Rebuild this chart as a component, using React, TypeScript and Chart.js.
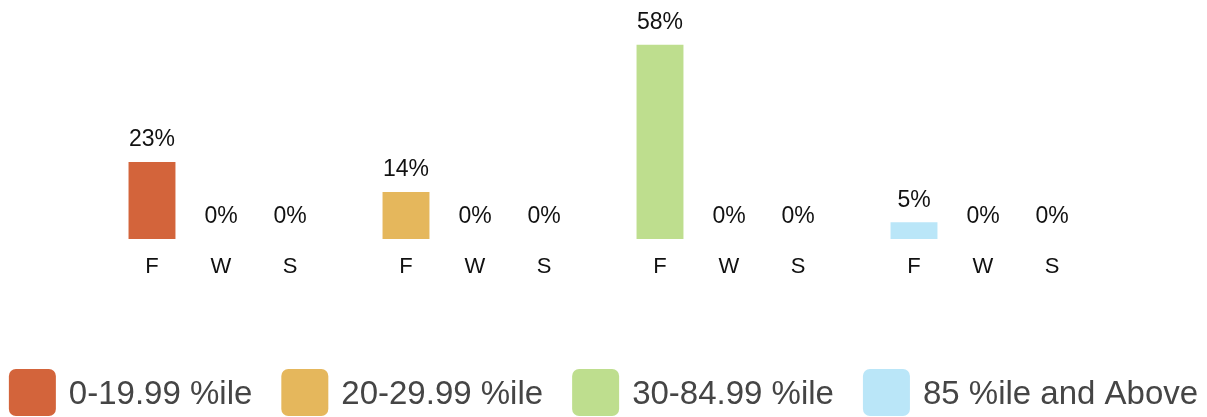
import React, { useEffect, useRef } from "react";
import { Chart, registerables } from "chart.js";

Chart.register(...registerables);

const groups = ["0-19.99 %ile", "20-29.99 %ile", "30-84.99 %ile", "85 %ile and Above"];
const seriesNames = ["F", "W", "S"];
const fValues = [23, 14, 58, 5];
const wValues = [0, 0, 0, 0];
const sValues = [0, 0, 0, 0];
const groupColors = ["#D3643B", "#E5B75C", "#BEDE8E", "#BAE6F8"];

const FONT = '"Liberation Sans", Arial, Helvetica, sans-serif';

const labelPlugin = {
  id: "barLabels",
  afterDatasetsDraw(chart: any) {
    const ctx = chart.ctx;
    ctx.save();
    ctx.textAlign = "center";
    ctx.textBaseline = "middle";
    ctx.fillStyle = "#111111";
    chart.data.datasets.forEach((ds: any, di: number) => {
      const meta = chart.getDatasetMeta(di);
      meta.data.forEach((bar: any, i: number) => {
        const v = ds.data[i];
        ctx.font = `23px ${FONT}`;
        ctx.fillText(`${v}%`, bar.x, bar.y - 22);
        ctx.font = `22px ${FONT}`;
        ctx.fillText(seriesNames[di], bar.x, chart.chartArea.bottom + 28);
      });
    });
    ctx.restore();
  },
  afterDraw(chart: any) {
    const ctx = chart.ctx;
    ctx.save();
    const box = 47;
    const textGap = 13;
    const itemGap = 29;
    ctx.font = `33px ${FONT}`;
    const widths = groups.map((g) => box + textGap + ctx.measureText(g).width);
    const total = widths.reduce((a, b) => a + b, 0) + itemGap * (groups.length - 1);
    let x = (chart.width - total) / 2;
    const top = chart.height - 48;
    groups.forEach((g, i) => {
      ctx.fillStyle = groupColors[i];
      ctx.beginPath();
      ctx.roundRect(x, top, box, box, 7);
      ctx.fill();
      ctx.fillStyle = "#454545";
      ctx.textAlign = "left";
      ctx.textBaseline = "middle";
      ctx.fillText(g, x + box + textGap, top + box / 2 + 2);
      x += widths[i] + itemGap;
    });
    ctx.restore();
  },
};

export default function App() {
  const ref = useRef<HTMLCanvasElement | null>(null);
  useEffect(() => {
    if (!ref.current) return;
    const chart = new Chart(ref.current, {
      type: "bar",
      data: {
        labels: groups,
        datasets: [
          { label: seriesNames[0], data: fValues, backgroundColor: groupColors },
          { label: seriesNames[1], data: wValues, backgroundColor: groupColors },
          { label: seriesNames[2], data: sValues, backgroundColor: groupColors },
        ],
      },
      options: {
        animation: false,
        responsive: true,
        maintainAspectRatio: false,
        layout: { padding: { left: 94, right: 97, top: 38, bottom: 178 } },
        datasets: { bar: { categoryPercentage: 0.815, barPercentage: 0.68 } },
        scales: {
          x: { display: false },
          y: { display: false, min: 0, max: 60 },
        },
        plugins: {
          legend: { display: false },
          tooltip: { enabled: false },
        },
      },
      plugins: [labelPlugin],
    });
    return () => chart.destroy();
  }, []);
  return (
    <div style={{ position: "absolute", left: 0, top: 0, width: 1207, height: 417, background: "#fff" }}>
      <canvas ref={ref} />
    </div>
  );
}
